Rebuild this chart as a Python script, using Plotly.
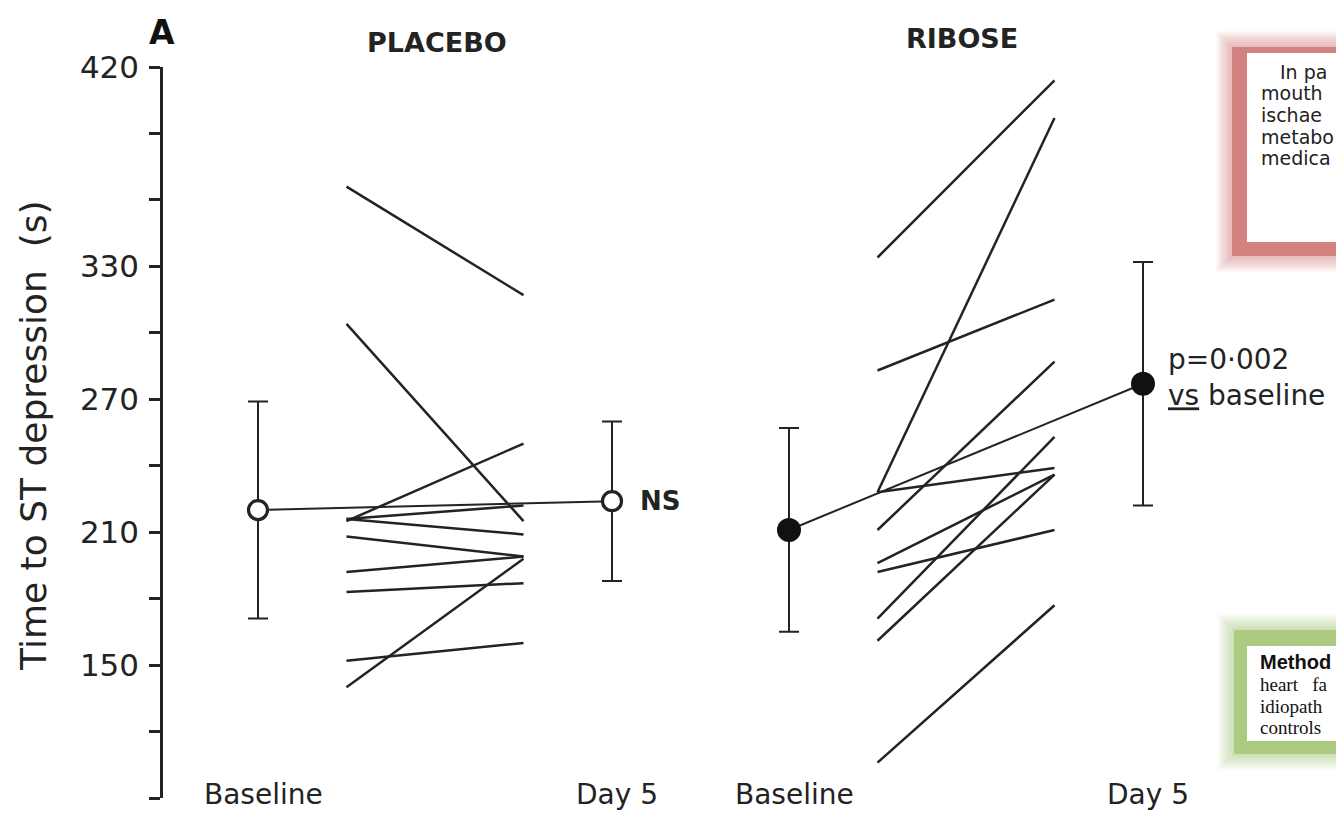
import plotly.graph_objects as go

# ---- data: time to ST depression (s), one value per patient ----
placebo_baseline = [366, 304, 215, 216, 216, 208, 192, 183, 152, 140]
placebo_day5 = [317, 215, 250, 222, 209, 199, 199, 187, 160, 198]
ribose_baseline = [334, 228, 283, 211, 228, 196, 192, 171, 161, 106]
ribose_day5 = [414, 397, 315, 287, 239, 236, 211, 253, 236, 177]

# group means and SD
placebo_mean = [220, 224]
placebo_sd = [49, 36]
ribose_mean = [211, 277]
ribose_sd = [46, 55]

group_names = ["PLACEBO", "RIBOSE"]
time_labels = ["Baseline", "Day 5"]
y_tick_values = list(range(90, 421, 30))
y_tick_labelled = [90, 150, 210, 270, 330, 420]

# ---- layout geometry ----
W, H = 1336, 813
PLOT_L, PLOT_R, PLOT_T, PLOT_B = 163, 1336, 67, 798
X0_PX, X_UNIT_PX = 258, 354  # pixel of x=0 and pixels per x unit

INK = "#232323"
SANS = "DejaVu Sans"


def px_x(px):
    return (px - PLOT_L) / (PLOT_R - PLOT_L)


def px_y(py):
    return (PLOT_B - py) / (PLOT_B - PLOT_T)


# x positions of each group (mean markers, then paired lines in between)
group_x = {"PLACEBO": (0.0, 1.0), "RIBOSE": (1.5, 2.5)}
pair_offset = (0.25, 0.75)

fig = go.Figure()

groups = [
    ("PLACEBO", placebo_baseline, placebo_day5, placebo_mean, placebo_sd, "open"),
    ("RIBOSE", ribose_baseline, ribose_day5, ribose_mean, ribose_sd, "filled"),
]

for name, base, day5, mean, sd, style in groups:
    xb, xd = group_x[name]
    # line joining the means
    fig.add_trace(go.Scatter(x=[xb, xd], y=mean, mode="lines",
                             line=dict(color=INK, width=2), hoverinfo="skip"))
    # individual patient lines
    xs, ys = [], []
    for b, d in zip(base, day5):
        xs += [xb + pair_offset[0], xb + pair_offset[1], None]
        ys += [b, d, None]
    fig.add_trace(go.Scatter(x=xs, y=ys, mode="lines",
                             line=dict(color=INK, width=2.5), hoverinfo="skip"))
    # mean +/- SD markers
    if style == "open":
        marker = dict(symbol="circle", size=19, color="white",
                      line=dict(color=INK, width=3.2))
    else:
        marker = dict(symbol="circle", size=24, color="#111111",
                      line=dict(color="#111111", width=0))
    fig.add_trace(go.Scatter(
        x=[xb, xd], y=mean, mode="markers", marker=marker,
        error_y=dict(type="data", array=sd, thickness=2, width=10, color=INK),
        hoverinfo="skip"))

annotations = []

# group titles and panel letter
annotations.append(dict(xref="paper", yref="paper", x=px_x(162), y=px_y(33),
                        text="<b>A</b>", showarrow=False,
                        xanchor="center", yanchor="middle",
                        font=dict(family=SANS, size=33, color="#111")))
title_px = {"PLACEBO": (437, 42), "RIBOSE": (962, 39)}
for g in group_names:
    tx, ty = title_px[g]
    annotations.append(dict(xref="paper", yref="paper", x=px_x(tx), y=px_y(ty),
                            text="<b>%s</b>" % g, showarrow=False,
                            xanchor="center", yanchor="middle",
                            font=dict(family=SANS, size=27, color=INK)))

# time point labels under each mean column
for g in group_names:
    for xv, lab in zip(group_x[g], time_labels):
        annotations.append(dict(xref="x", yref="paper", x=xv, y=px_y(813),
                                xshift=5, text=lab, showarrow=False,
                                xanchor="center", yanchor="bottom",
                                font=dict(family=SANS, size=28, color=INK)))

# significance labels
annotations.append(dict(xref="x", yref="y", x=group_x["PLACEBO"][1],
                        y=placebo_mean[1], xshift=26, text="<b>NS</b>",
                        showarrow=False, xanchor="left", yanchor="middle",
                        font=dict(family=SANS, size=26, color=INK)))
annotations.append(dict(xref="x", yref="y", x=group_x["RIBOSE"][1],
                        y=ribose_mean[1], xshift=23, yshift=6,
                        text="p=0\u00b7002<br><u>vs</u> baseline", align="left",
                        showarrow=False, xanchor="left", yanchor="middle",
                        font=dict(family=SANS, size=28, color=INK)))

# y axis title
annotations.append(dict(xref="paper", yref="paper", x=px_x(33), y=px_y(436),
                        text="Time to ST depression\u00a0\u00a0(s)", textangle=-90,
                        showarrow=False, xanchor="center", yanchor="middle",
                        font=dict(family=SANS, size=36, color=INK)))

# ---- framed text panels at the right edge ----
shapes = []


def framed_panel(x0, y0, x1, y1, ix0, iy0, ix1, iy1, color):
    for k in range(7, 0, -1):
        e = 2.2 * k
        shapes.append(dict(type="rect", xref="paper", yref="paper",
                           x0=px_x(x0 - e), x1=px_x(x1 + e),
                           y0=px_y(y1 + e), y1=px_y(y0 - e),
                           line=dict(width=0), fillcolor=color, opacity=0.09,
                           layer="above"))
    shapes.append(dict(type="rect", xref="paper", yref="paper",
                       x0=px_x(x0), x1=px_x(x1), y0=px_y(y1), y1=px_y(y0),
                       line=dict(width=0), fillcolor=color, opacity=0.9,
                       layer="above"))
    shapes.append(dict(type="rect", xref="paper", yref="paper",
                       x0=px_x(ix0), x1=px_x(ix1), y0=px_y(iy1), y1=px_y(iy0),
                       line=dict(width=0), fillcolor="white", layer="above"))


framed_panel(1232, 47, 1345, 256, 1247, 53, 1345, 242, "#d07b78")
framed_panel(1234, 630, 1345, 754, 1247, 646, 1345, 741, "#a9c87a")

red_lines = [("\u2003In pa", 72), ("mouth", 93), ("ischae", 115),
             ("metabo", 137), ("medica", 158)]
for txt, ty in red_lines:
    annotations.append(dict(xref="paper", yref="paper", x=px_x(1259), y=px_y(ty),
                            text=txt, showarrow=False, xanchor="left",
                            yanchor="middle",
                            font=dict(family=SANS, size=19, color="#222")))

green_lines = [("<b>Method</b>", 662, "Liberation Sans", 20),
               ("heart\u00a0\u00a0\u00a0fa", 684, "Liberation Serif", 19),
               ("idiopath", 706, "Liberation Serif", 19),
               ("controls", 727, "Liberation Serif", 19)]
for txt, ty, fam, fs in green_lines:
    annotations.append(dict(xref="paper", yref="paper", x=px_x(1258), y=px_y(ty),
                            text=txt, showarrow=False, xanchor="left",
                            yanchor="middle",
                            font=dict(family=fam, size=fs, color="#111")))

fig.update_layout(
    width=W, height=H,
    margin=dict(l=PLOT_L, r=W - PLOT_R, t=PLOT_T, b=H - PLOT_B),
    paper_bgcolor="white", plot_bgcolor="white",
    showlegend=False,
    annotations=annotations,
    shapes=shapes,
    xaxis=dict(range=[(PLOT_L - X0_PX) / X_UNIT_PX, (PLOT_R - X0_PX) / X_UNIT_PX],
               showgrid=False, zeroline=False, showline=False,
               showticklabels=False, ticks=""),
    yaxis=dict(range=[90, 420], showgrid=False, zeroline=False,
               showline=True, linecolor=INK, linewidth=2.5,
               ticks="outside", ticklen=11, tickwidth=2.5, tickcolor=INK,
               tickvals=y_tick_values,
               ticktext=[str(v) if v in y_tick_labelled else "" for v in y_tick_values],
               tickfont=dict(family=SANS, size=31, color=INK),
               ticklabelstandoff=4),
)

fig.write_html("out.html")
